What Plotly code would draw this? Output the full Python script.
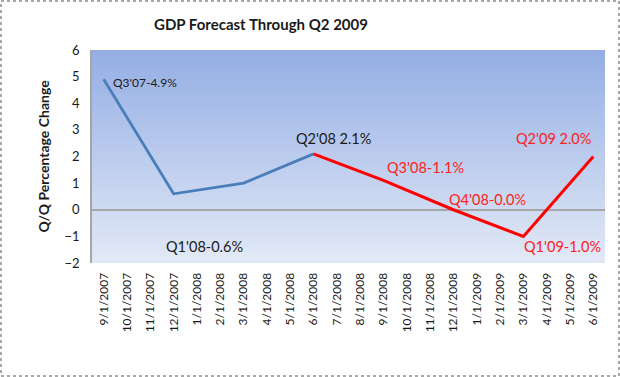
import plotly.graph_objects as go

months = ["9/1/2007", "10/1/2007", "11/1/2007", "12/1/2007", "1/1/2008", "2/1/2008",
          "3/1/2008", "4/1/2008", "5/1/2008", "6/1/2008", "7/1/2008", "8/1/2008",
          "9/1/2008", "10/1/2008", "11/1/2008", "12/1/2008", "1/1/2009", "2/1/2009",
          "3/1/2009", "4/1/2009", "5/1/2009", "6/1/2009"]

actual_dates = ["9/1/2007", "12/1/2007", "3/1/2008", "6/1/2008"]
actual_values = [4.9, 0.6, 1.0, 2.1]

forecast_dates = ["6/1/2008", "9/1/2008", "12/1/2008", "3/1/2009", "6/1/2009"]
forecast_values = [2.1, 1.1, 0.0, -1.0, 2.0]

# label text, date, value, color, xanchor, xshift, yshift, size
labels = [
    ("Q3'07-4.9%", "9/1/2007", 4.9, "#1a1a1a", "left", 7, -3, 12),
    ("Q1'08-0.6%", "12/1/2007", 0.6, "#1a1a1a", "center", 31, -53, 14.5),
    ("Q2'08 2.1%", "6/1/2008", 2.1, "#1a1a1a", "center", 20, 15, 14.5),
    ("Q3'08-1.1%", "9/1/2008", 1.1, "#ff2020", "center", 42, 13, 14.5),
    ("Q4'08-0.0%", "12/1/2008", 0.0, "#ff2020", "center", 34, 10, 14.5),
    ("Q1'09-1.0%", "3/1/2009", -1.0, "#ff2020", "center", 39, -10, 14.5),
    ("Q2'09 2.0%", "6/1/2009", 2.0, "#ff2020", "center", -40, 18, 14.5),
]

FONT = "Lato, 'Open Sans', sans-serif"

fig = go.Figure()
fig.add_trace(go.Scatter(x=actual_dates, y=actual_values, mode="lines",
                         line=dict(color="#4a7ebb", width=2.8), showlegend=False,
                         hoverinfo="x+y"))
fig.add_trace(go.Scatter(x=forecast_dates, y=forecast_values, mode="lines",
                         line=dict(color="#ff0000", width=3), showlegend=False,
                         hoverinfo="x+y"))

# gradient background bands (slightly overlapping to avoid seams)
n = 71
top = (148, 174, 228)
bot = (226, 233, 246)
shapes = []
for i in range(n):
    t = i / (n - 1)
    c = tuple(round(top[k] + (bot[k] - top[k]) * t) for k in range(3))
    shapes.append(dict(type="rect", xref="x domain", yref="y domain",
                       x0=0, x1=1, y0=max(0, 1 - (i + 1.6) / n), y1=1 - i / n,
                       fillcolor="rgb(%d,%d,%d)" % c, line=dict(width=0),
                       layer="below"))
# outer dotted border
shapes.append(dict(type="rect", xref="paper", yref="paper",
                   x0=(1 - 92) / 513, x1=(619 - 92) / 513,
                   y0=(263 - 376) / 213, y1=(263 - 1) / 213,
                   line=dict(color="#8c8c8c", width=1.5, dash="dot"),
                   fillcolor="rgba(0,0,0,0)"))

annotations = []
for text, d, v, col, xa, xs, ys, fs in labels:
    annotations.append(dict(x=d, y=v, xref="x", yref="y", text=text,
                            showarrow=False, xanchor=xa, yanchor="middle",
                            xshift=xs, yshift=ys,
                            font=dict(family=FONT, size=fs, color=col)))

fig.update_layout(
    width=620, height=377,
    margin=dict(l=92, r=15, t=50, b=114),
    paper_bgcolor="white", plot_bgcolor="white",
    title=dict(text="<b>GDP Forecast Through Q2 2009</b>", x=261 / 620, xanchor="center",
               y=1 - 25 / 377, yanchor="middle",
               font=dict(family=FONT, size=15, color="#1a1a1a")),
    xaxis=dict(type="category", categoryorder="array", categoryarray=months,
               range=[-0.5, len(months) - 0.5], tickmode="array", tickvals=months,
               ticktext=months, tickangle=-90, showgrid=False, showline=False,
               zeroline=False, ticks="outside", ticklen=4, tickcolor="rgba(0,0,0,0)",
               tickfont=dict(family=FONT, size=12, color="#1a1a1a")),
    yaxis=dict(range=[-2, 6], dtick=1, showgrid=False, zeroline=True,
               zerolinecolor="#a6a6a6", zerolinewidth=1.5, showline=True,
               linecolor="#a6a6a6", linewidth=1.5, ticks="outside", ticklen=8,
               tickcolor="rgba(0,0,0,0)",
               title=dict(text="<b>Q/Q Percentage Change</b>", standoff=12,
                          font=dict(family=FONT, size=14, color="#1a1a1a")),
               tickfont=dict(family=FONT, size=13, color="#1a1a1a")),
    shapes=shapes,
    annotations=annotations,
)

fig.write_html("out.html", config={"displayModeBar": False},
               post_script="document.body.style.margin='0';")
